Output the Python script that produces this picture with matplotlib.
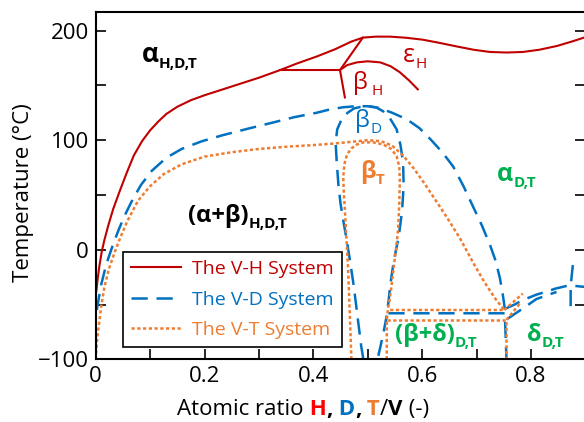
import matplotlib.pyplot as plt
from matplotlib.ticker import MultipleLocator

plt.rcParams['font.family'] = ['Open Sans', 'DejaVu Sans']

RED = '#C00000'
BLUE = '#0070C0'
ORANGE = '#ED7D31'
GREEN = '#00B050'

# ---- V-H system (solid red) ----
vh_outer_x = [0.0, 0.002, 0.004, 0.007, 0.011, 0.016, 0.023, 0.032, 0.043, 0.056, 0.07, 0.085, 0.1,
              0.115, 0.13, 0.15, 0.175, 0.2, 0.225, 0.25, 0.275, 0.3, 0.339, 0.37, 0.407, 0.44, 0.47,
              0.491, 0.515, 0.541, 0.57, 0.6, 0.63, 0.664, 0.695, 0.725, 0.755, 0.785, 0.815, 0.848,
              0.875, 0.9]
vh_outer_y = [-42, -34, -25, -14, -2, 9, 22, 37, 52, 69, 86, 99, 109,
              117, 124, 130.5, 136.5, 141, 145, 149, 153, 157, 164, 170, 176.5, 183, 190,
              193.6, 194.5, 194.5, 193.5, 191.8, 189, 185.5, 182.5, 180.5, 180, 180.5, 182.5, 186,
              190, 194]
vh_eutectoid_x = [0.339, 0.449]
vh_eutectoid_y = [164, 164]
vh_eps_x = [0.449, 0.491]
vh_eps_y = [164, 193.6]
vh_beta_left_x = [0.449, 0.458]
vh_beta_left_y = [164, 139]
vh_beta_dome_x = [0.449, 0.462, 0.48, 0.5, 0.523, 0.542, 0.559, 0.576, 0.592]
vh_beta_dome_y = [164, 168.5, 171, 172, 171, 167.5, 162, 154.5, 146.4]

# ---- V-D system (dashed blue) ----
vd_outer_x = [0.002, 0.005, 0.01, 0.016, 0.023, 0.032, 0.042, 0.053, 0.066, 0.083, 0.103, 0.13, 0.158,
              0.195, 0.233, 0.28, 0.325, 0.365, 0.406, 0.43, 0.454, 0.478, 0.5, 0.52, 0.545, 0.572,
              0.595, 0.615, 0.637, 0.657, 0.676, 0.693, 0.71, 0.725, 0.735, 0.743, 0.748, 0.752]
vd_outer_y = [-55, -46, -32, -20, -8, 5, 18, 31, 44, 59, 72, 84, 92,
              99, 104.5, 110.5, 116, 121, 125, 128, 130, 131, 131, 129.5, 125, 119,
              111, 101, 89, 76, 58, 40, 22, 4, -10, -26, -40, -54]
vd_inner_x = [0.492, 0.488, 0.484, 0.479, 0.474, 0.468, 0.462, 0.456, 0.45, 0.446, 0.443, 0.441, 0.444,
              0.452, 0.463, 0.475, 0.488, 0.5, 0.515, 0.528, 0.542, 0.553, 0.56, 0.565, 0.566, 0.563,
              0.557, 0.548, 0.542, 0.538, 0.535, 0.752, 0.755]
vd_inner_y = [-100, -88, -72, -52, -32, -12, 7, 24, 42, 60, 80, 98, 110,
              119, 125, 129, 130.5, 131, 130, 126.5, 119, 110, 96, 80, 58, 35,
              12, -10, -30, -48, -58, -58, -100]
vd_stub_x = [0.535, 0.53, 0.524, 0.518]
vd_stub_y = [-60, -73, -87, -100]
vd_delta1_x = [0.752, 0.77, 0.785, 0.81, 0.83, 0.845, 0.87, 0.9]
vd_delta1_y = [-54, -50, -46, -41, -38, -35.5, -32.5, -34]
vd_delta2_x = [0.757, 0.775, 0.79, 0.81, 0.83, 0.847]
vd_delta2_y = [-63, -57, -52, -45, -41.5, -38.5]
vd_vert_x = [0.877, 0.873, 0.873]
vd_vert_y = [-14, -33, -52]

# ---- V-T system (dotted orange) ----
vt_outer_x = [0.0, 0.001, 0.003, 0.006, 0.01, 0.016, 0.024, 0.035, 0.046, 0.058, 0.078, 0.1, 0.125,
              0.158, 0.2, 0.25, 0.3, 0.35, 0.4, 0.44, 0.47, 0.5, 0.525, 0.545, 0.565, 0.585, 0.605,
              0.625, 0.645, 0.67, 0.694, 0.715, 0.735, 0.751, 0.537]
vt_outer_y = [-100, -92, -80, -68, -52, -34, -18, -2, 12, 26, 45, 58, 69,
              78, 85, 89, 92, 94, 95.5, 97, 98.5, 100, 99, 95, 86, 74, 60,
              45, 30, 10, -12, -30, -45, -55, -55]
vt_inner_x = [0.47, 0.468, 0.466, 0.464, 0.462, 0.46, 0.458, 0.456, 0.455, 0.457, 0.462, 0.47, 0.48,
              0.492, 0.51, 0.529, 0.543, 0.553, 0.558, 0.559, 0.558, 0.556, 0.552, 0.548, 0.543, 0.54,
              0.537, 0.535, 0.535]
vt_inner_y = [-100, -72, -45, -18, 0, 18, 36, 52, 66, 78, 87, 92.5, 96,
              98, 98, 96, 92, 85.5, 76, 64.5, 42, 20, 0, -15, -36, -46,
              -55, -64, -100]
vt_box_x = [0.535, 0.755, 0.755]
vt_box_y = [-64, -64, -100]
vt_diag1_x = [0.751, 0.785]
vt_diag1_y = [-55, -40]
vt_diag2_x = [0.755, 0.78]
vt_diag2_y = [-64, -49]

styles = {
    'H': dict(color=RED, lw=1.5, ls='-'),
    'D': dict(color=BLUE, lw=1.8, ls=(0, (6.5, 3.5))),
    'T': dict(color=ORANGE, lw=1.8, ls=(0, (1.3, 1.0))),
}

fig = plt.figure(figsize=(5.84, 4.22), dpi=100)
ax = fig.add_axes([0.1639, 0.1486, 0.8384, 0.823])

ax.plot(vh_outer_x, vh_outer_y, label='The V-H System', **styles['H'])
for xs, ys in [(vh_eutectoid_x, vh_eutectoid_y), (vh_eps_x, vh_eps_y),
               (vh_beta_left_x, vh_beta_left_y), (vh_beta_dome_x, vh_beta_dome_y)]:
    ax.plot(xs, ys, **styles['H'])

ax.plot(vd_outer_x, vd_outer_y, label='The V-D System', **styles['D'])
for xs, ys in [(vd_inner_x, vd_inner_y), (vd_stub_x, vd_stub_y), (vd_delta1_x, vd_delta1_y),
               (vd_delta2_x, vd_delta2_y), (vd_vert_x, vd_vert_y)]:
    ax.plot(xs, ys, **styles['D'])

ax.plot(vt_outer_x, vt_outer_y, label='The V-T System', **styles['T'])
for xs, ys in [(vt_inner_x, vt_inner_y), (vt_box_x, vt_box_y),
               (vt_diag1_x, vt_diag1_y), (vt_diag2_x, vt_diag2_y)]:
    ax.plot(xs, ys, **styles['T'])

ax.set_xlim(0, 0.9)
ax.set_ylim(-100, 217)
ax.xaxis.set_major_locator(MultipleLocator(0.2))
ax.xaxis.set_minor_locator(MultipleLocator(0.1))
ax.yaxis.set_major_locator(MultipleLocator(100))
ax.yaxis.set_minor_locator(MultipleLocator(50))
ax.xaxis.set_major_formatter(plt.FuncFormatter(lambda v, p: '0' if abs(v) < 1e-9 else f'{v:.1f}'))
ax.tick_params(which='both', direction='in', length=7, width=1.2, right=True, top=False,
               labelsize=16, pad=5)
for s in ax.spines.values():
    s.set_linewidth(1.5)


def phase(x, y, main, sub, color, weight='bold', size=17, subsize=11):
    t = ax.text(x, y, main, color=color, fontsize=size, fontweight=weight, va='baseline')
    ax.annotate(sub, xy=(1, 0), xycoords=t, va='baseline', color=color,
                fontsize=subsize, fontweight=weight)


phase(0.085, 171.8, 'α', 'H,D,T', 'black', size=19)
phase(0.565, 171, 'ε', 'H', RED, weight='normal', size=18)
phase(0.473, 146.8, 'β', ' H', RED, weight='normal')
phase(0.477, 111.8, 'β', 'D', BLUE, weight='normal')
phase(0.486, 65.5, 'β', 'T', ORANGE)
phase(0.738, 62.7, 'α', 'D,T', GREEN, size=18)
phase(0.17, 25.5, '(α+β)', 'H,D,T', 'black')
phase(0.55, -83.6, '(β+δ)', 'D,T', GREEN)
phase(0.793, -83.6, 'δ', 'D,T', GREEN)

leg = ax.legend(loc='lower left', bbox_to_anchor=(0.0558, 0.0354), borderaxespad=0,
                fancybox=False, edgecolor='black', framealpha=1, fontsize=14,
                labelcolor='linecolor', handlelength=2.6, handletextpad=0.55,
                labelspacing=0.65, borderpad=0.4)
leg.get_frame().set_linewidth(1.2)

# y label
fig.text(24 / 584, 0.543, 'Temperature (°C)', rotation=90, ha='center', va='center', fontsize=16)

# multi-coloured x label
prev = fig.text(177 / 584, 7 / 422, 'Atomic ratio', color='black', fontsize=16, va='baseline')
for txt, c, w in [(' H', '#FF0000', 'bold'), (',', 'black', 'bold'), (' D', BLUE, 'bold'),
                  (',', 'black', 'bold'), (' T', ORANGE, 'bold'), ('/', 'black', 'normal'),
                  ('V', 'black', 'bold'), (' (-)', 'black', 'normal')]:
    prev = ax.annotate(txt, xy=(1, 0), xycoords=prev, va='bottom', color=c, fontsize=16,
                       fontweight=w, annotation_clip=False)

fig.savefig('out.png', dpi=100)
